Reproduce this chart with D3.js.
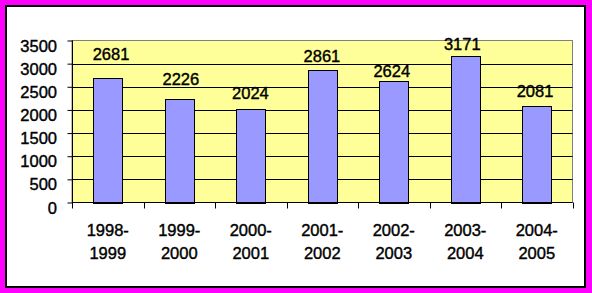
<!DOCTYPE html>
<html>
<head>
<meta charset="utf-8">
<script src="https://cdn.jsdelivr.net/npm/d3@7"></script>
<style>
  html, body { margin: 0; padding: 0; background: #ff00ff; }
  svg { display: block; }
  text { font-family: "Liberation Sans", Arial, sans-serif; fill: #000; stroke: #000; stroke-width: 0.4px; }
</style>
</head>
<body>
<svg id="chart" width="592" height="293"></svg>
<script>
// ---- data ----
const categories = ["1998-1999", "1999-2000", "2000-2001", "2001-2002", "2002-2003", "2003-2004", "2004-2005"];
const values = [2681, 2226, 2024, 2861, 2624, 3171, 2081];
const yTicks = [0, 500, 1000, 1500, 2000, 2500, 3000, 3500];
// label nudges (layout only): lift above bar top, horizontal shift
const labelLift = [18.4, 14.3, 9.4, 8.3, 4.3, 5.3, 9.3];
const labelShift = [3.3, 1.6, -0.3, -0.3, -2, -3, -1.7];

(function () {
const svg = d3.select("#chart");
const W = 592, H = 293;

svg.append("rect").attr("x", 0).attr("y", 0).attr("width", W).attr("height", H).attr("fill", "#ff00ff");
svg.append("rect").attr("x", 6).attr("y", 6).attr("width", 579).attr("height", 281)
  .attr("fill", "#ffffff").attr("stroke", "#000").attr("stroke-width", 2);

const pL = 72, pR = 572.5, pT = 40.5, pB = 202.5;

const x = d3.scaleBand().domain(categories).range([pL, pR]).padding(0);
const y = d3.scaleLinear().domain([0, 3500]).range([pB, pT]);

// plot area
svg.append("rect").attr("x", pL).attr("y", pT).attr("width", pR - pL).attr("height", pB - pT)
  .attr("fill", "#ffff99").attr("stroke", "#808080").attr("stroke-width", 1);

// gridlines
svg.append("g").selectAll("line").data(yTicks.filter(d => d > 0 && d < 3500)).join("line")
  .attr("x1", pL).attr("x2", pR)
  .attr("y1", d => Math.round(y(d)) + 0.5).attr("y2", d => Math.round(y(d)) + 0.5)
  .attr("stroke", "#000").attr("stroke-width", 1);

// bars
const bw = x.bandwidth() * 0.41;
svg.append("g").selectAll("rect").data(values).join("rect")
  .attr("x", (d, i) => Math.round(x(categories[i]) + (x.bandwidth() - bw) / 2) + 0.5)
  .attr("y", d => Math.round(y(d)) + 0.5)
  .attr("width", Math.round(bw))
  .attr("height", d => Math.round(y(0)) - Math.round(y(d)))
  .attr("fill", "#9999ff").attr("stroke", "#000").attr("stroke-width", 1);

// value labels
svg.append("g").selectAll("text").data(values).join("text")
  .attr("x", (d, i) => x(categories[i]) + x.bandwidth() / 2 + labelShift[i])
  .attr("y", (d, i) => y(d) - labelLift[i])
  .attr("text-anchor", "middle")
  .attr("font-size", 16.5)
  .text(d => d);

// y axis
const yAxis = d3.axisLeft(y).tickValues(yTicks).tickSize(5).tickFormat(d3.format("d"));
const gy = svg.append("g").attr("transform", `translate(${pL + 0.5},0)`).call(yAxis);
gy.select(".domain").attr("stroke", "#000").attr("d", `M0,${pT}V${pB}`);
gy.selectAll(".tick line").attr("stroke", "#000");
gy.selectAll(".tick text").attr("font-size", 16.5).attr("font-family", "Liberation Sans, Arial, sans-serif")
  .attr("fill", "#000").attr("x", -15.5).attr("dy", "0.52em").attr("y", 2);

// x axis
const gx = svg.append("g").attr("transform", `translate(0,${pB})`);
gx.append("line").attr("x1", pL).attr("x2", pR).attr("y1", 0).attr("y2", 0).attr("stroke", "#000");
const bounds = categories.map(c => x(c)).concat([pR]);
gx.selectAll("line.tk").data(bounds).join("line").attr("class", "tk")
  .attr("x1", d => Math.round(d) + 0.5).attr("x2", d => Math.round(d) + 0.5)
  .attr("y1", 0).attr("y2", 6).attr("stroke", "#000");

const xl = svg.append("g").selectAll("text").data(categories).join("text")
  .attr("text-anchor", "middle").attr("font-size", 16.5)
  .attr("x", c => x(c) + x.bandwidth() / 2);
xl.append("tspan").attr("x", c => x(c) + x.bandwidth() / 2).attr("y", 236).text(c => c.split("-")[0] + "-");
xl.append("tspan").attr("x", c => x(c) + x.bandwidth() / 2).attr("y", 258.7).text(c => c.split("-")[1]);
})();
</script>
</body>
</html>
